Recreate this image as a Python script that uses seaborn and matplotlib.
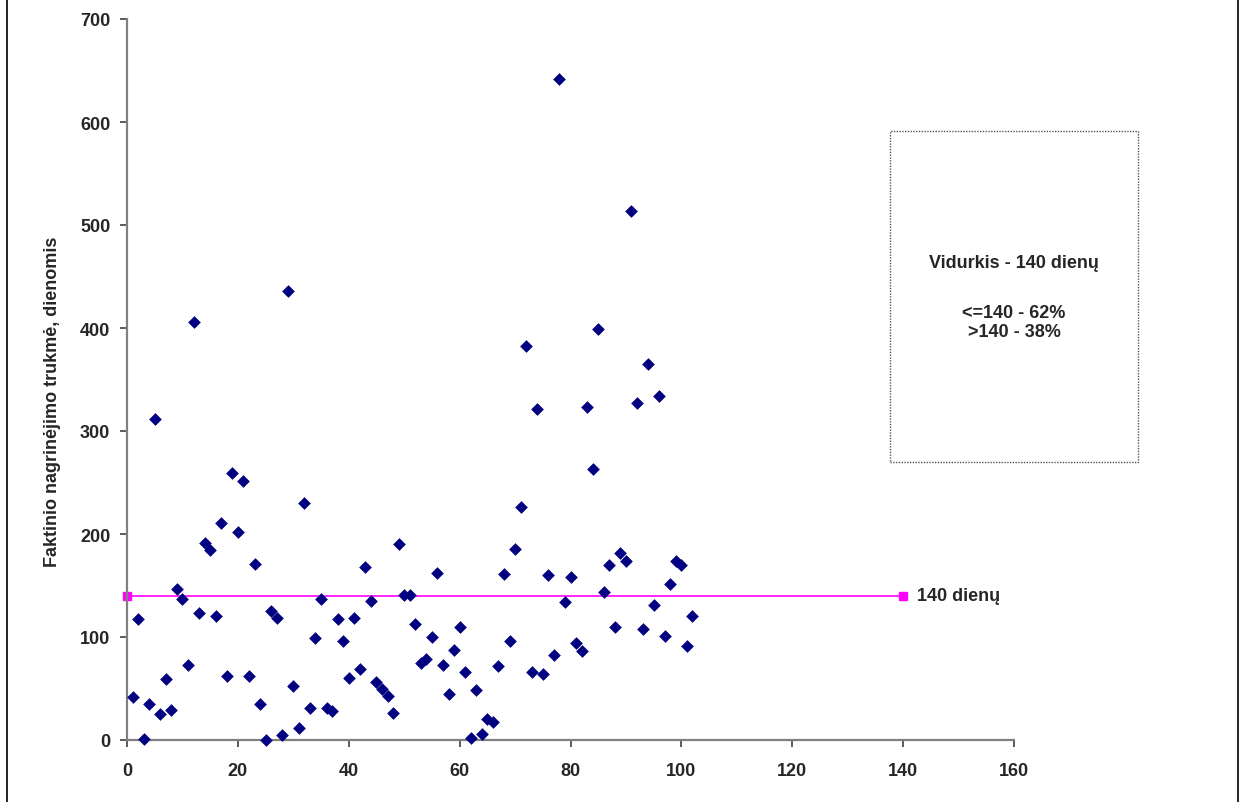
import numpy as np
import pandas as pd
import matplotlib
matplotlib.use("Agg")
import matplotlib.pyplot as plt
import seaborn as sns
from matplotlib.patches import Rectangle
from matplotlib.lines import Line2D

# bylos eilės numeris ir faktinė nagrinėjimo trukmė (dienomis)
case_no = list(range(1, 103))
duration = [42, 117, 1, 35, 312, 25, 59, 29, 147, 137,
            73, 406, 123, 191, 184, 120, 211, 62, 259, 202,
            251, 62, 171, 35, 0, 125, 118, 5, 436, 52,
            12, 230, 31, 99, 137, 31, 28, 117, 96, 60,
            118, 69, 168, 135, 56, 50, 43, 26, 190, 141,
            141, 113, 75, 79, 100, 162, 73, 45, 87, 110,
            66, 2, 49, 6, 20, 17, 72, 161, 96, 185,
            226, 383, 66, 321, 64, 160, 83, 642, 134, 158,
            94, 86, 323, 263, 399, 144, 170, 110, 182, 174,
            514, 327, 108, 365, 131, 334, 101, 151, 174, 170,
            91, 120]

ref_x = [0, 140]
ref_y = [140, 140]
ref_label = "140 dienų"

x_ticks = [0, 20, 40, 60, 80, 100, 120, 140, 160]
y_ticks = [0, 100, 200, 300, 400, 500, 600, 700]
y_label = "Faktinio nagrinėjimo trukmė, dienomis"
box_title = "Vidurkis - 140 dienų"
box_lines = ["<=140 - 62%", ">140 - 38%"]

df = pd.DataFrame({"nr": case_no, "trukme": duration})

sns.set_style("white")
plt.rcParams["font.family"] = ["Liberation Sans", "DejaVu Sans"]
FS = 13

fig = plt.figure(figsize=(12.44, 8.03), dpi=100)
ax = fig.add_axes([127 / 1244, 1 - 741 / 803, 887 / 1244, 721 / 803])

sns.scatterplot(data=df, x="nr", y="trukme", marker="D", s=42, color="#000080",
                edgecolor="#000080", linewidth=0, ax=ax, zorder=3, clip_on=False)
ax.plot(ref_x, ref_y, color="#FF00FF", linewidth=1.2, marker="s", markersize=6,
        zorder=2, clip_on=False)
ax.text(ref_x[-1] + 2.5, ref_y[-1], ref_label, fontsize=FS, fontweight="bold",
        va="center", ha="left")

ax.set_xlim(0, 160)
ax.set_ylim(0, 700)
ax.set_xticks(x_ticks)
ax.set_yticks(y_ticks)
ax.set_xlabel("")
ax.set_ylabel(y_label, fontsize=FS, fontweight="bold")
ax.yaxis.set_label_coords(-0.074, 0.47)
for lbl in ax.get_xticklabels() + ax.get_yticklabels():
    lbl.set_fontweight("bold")
ax.tick_params(axis="both", labelsize=FS, direction="out", length=5, width=1.2,
               color="#404040", left=True, bottom=True)
ax.tick_params(axis="x", pad=11)
ax.tick_params(axis="y", pad=7)
for side in ["top", "right"]:
    ax.spines[side].set_visible(False)
for side in ["left", "bottom"]:
    ax.spines[side].set_color("#808080")
    ax.spines[side].set_linewidth(1.6)
ax.grid(False)

# teksto langelis su taškine rėmeline
x0, y0 = 890 / 1244, 1 - 463 / 803
w, h = (1138 - 890) / 1244, (463 - 132) / 803
fig.patches.append(Rectangle((x0, y0), w, h, transform=fig.transFigure, fill=False,
                             edgecolor="#555555", linestyle=(0, (1, 1)), linewidth=1))
fig.text(x0 + w / 2, 1 - 263 / 803, box_title, ha="center", va="center",
         fontsize=FS, fontweight="bold")
fig.text(x0 + w / 2, 1 - 323 / 803, "\n".join(box_lines), ha="center", va="center",
         fontsize=FS, fontweight="bold", linespacing=1.1)

# paveikslo rėmelis
fig.lines.append(Line2D([7 / 1244, 7 / 1244], [0, 1], transform=fig.transFigure,
                        color="black", linewidth=1.2))
fig.lines.append(Line2D([1238 / 1244, 1238 / 1244], [0, 1], transform=fig.transFigure,
                        color="black", linewidth=1.2))

fig.savefig("out.png", dpi=100)
plt.close(fig)
